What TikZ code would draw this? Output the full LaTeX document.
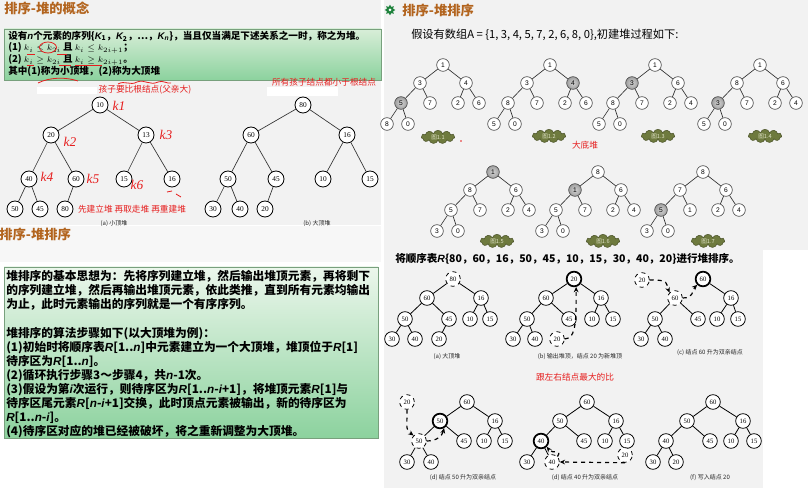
\documentclass[tikz,border=0pt]{standalone}
\usepackage{fontspec}
\usetikzlibrary{positioning,shapes.symbols,shapes.geometric,arrows.meta}
\setmainfont{Noto Sans CJK SC}
\newfontfamily\lsans{Liberation Sans}
\newfontfamily\lserif{Liberation Serif}
\newcommand{\ital}[1]{{\lsans\bfseries\itshape #1}}
\newcommand{\smallmath}[1]{{\fontsize{6.2}{7}\selectfont$#1$}}

\definecolor{titlebrown}{RGB}{178,100,30}
\definecolor{panelgrey}{RGB}{242,242,242}
\definecolor{boxtop}{RGB}{216,238,216}
\definecolor{boxbottom}{RGB}{140,210,158}
\definecolor{boxline}{RGB}{120,160,125}
\definecolor{cloudgreen}{RGB}{110,122,62}
\definecolor{cloudtext}{RGB}{225,228,200}
\definecolor{noteRed}{RGB}{230,30,30}
\definecolor{geargreen}{RGB}{30,130,60}

\tikzset{
  hnode/.style={circle, draw, line width=0.6pt, fill=white, minimum size=12pt, inner sep=0pt, font=\lserif\fontsize{5.5}{6}\selectfont},
  snode/.style={circle, draw=black!75, line width=0.45pt, fill=white, minimum size=9.5pt, inner sep=0pt, font=\lsans\fontsize{5}{5}\selectfont},
  gnode/.style={snode, inner color=gray!35, outer color=gray!75},
  rnode/.style={circle, draw, line width=0.6pt, fill=white, minimum size=11pt, inner sep=0pt, font=\lserif\fontsize{5}{5}\selectfont},
  dnode/.style={rnode, dashed},
  tnode/.style={rnode, line width=1.3pt},
  tline/.style={line width=0.5pt, black!80},
  rline/.style={line width=0.6pt},
  darr/.style={dashed, line width=0.9pt, -{Stealth[length=4pt,width=3.5pt]}},
  figcloud/.style={cloud, cloud puffs=11, aspect=2.6, fill=cloudgreen, draw=cloudgreen!70!black, inner sep=0.5pt, minimum width=25pt, minimum height=10pt, text=cloudtext, font=\fontsize{4.2}{4.2}\selectfont},
  title/.style={text=titlebrown, font=\bfseries\fontsize{10}{12}\selectfont},
  deftext/.style={anchor=west, inner sep=0pt, font=\bfseries\fontsize{7.2}{8}\selectfont},
  note/.style={text=noteRed, font=\fontsize{6.5}{7}\selectfont},
  hand/.style={text=noteRed, font=\lserif\itshape\fontsize{10}{10}\selectfont},
  capt/.style={font=\fontsize{4.5}{5}\selectfont, text=black!85},
  redmark/.style={noteRed, line width=0.6pt},
}

\begin{document}
\begin{tikzpicture}[x=0.75pt,y=-0.75pt]
  \useasboundingbox (0,0) rectangle (808,488);
  % backgrounds
  \fill[white] (0,0) rectangle (808,488);
  \fill[panelgrey] (0,0) rectangle (381,225);
  \fill[panelgrey] (384,0) rectangle (808,250);
  \fill[panelgrey] (384,246) rectangle (763,488);

  %%%%%%%%%%%%%%%%%%%%%%%%%%%%%%%%%%%%%%%%%%%%%%
  % Left top: heap definition
  %%%%%%%%%%%%%%%%%%%%%%%%%%%%%%%%%%%%%%%%%%%%%%
  \node[title, anchor=west, inner sep=0pt] (title1) at (4,8) {排序-堆的概念};
  \shade[top color=boxtop, bottom color=boxbottom, draw=boxline] (4,29) rectangle (381,80);
  \node[deftext] (def1) at (8,36) {设有\ital{n}个元素的序列\{\ital{K}\textsubscript{1}，\ital{K}\textsubscript{2}，…，\ital{K}\textsubscript{\ital{n}}\}，当且仅当满足下述关系之一时，称之为堆。};
  \node[deftext] (def2) at (8,48) {(1) \smallmath{k_i\le k_{2i}} 且 \smallmath{k_i\le k_{2i+1}}；};
  \node[deftext] (def3) at (8,60) {(2) \smallmath{k_i\ge k_{2i}} 且 \smallmath{k_i\ge k_{2i+1}}。};
  \node[deftext] (def4) at (8,71) {其中(1)称为小顶堆，(2)称为大顶堆};

  % red marks on the definition
  \draw[redmark] (48,47.5) ellipse (8.5 and 5.5);
  \draw[redmark] (27,54) -- (35,54) (57,54) -- (67,54);
  \draw[redmark] (27,65) -- (34,65) (59,65) -- (71,65) (75,65) -- (102,65);
  \draw[redmark] (38,83) .. controls (50,77) and (66,77) .. (78,81);
  \draw[redmark] (118,84) .. controls (125,80) and (130,86) .. (137,82) .. controls (145,79) and (150,86) .. (158,82) .. controls (163,80) and (167,84) .. (171,83);
  \fill[white] (37,87) rectangle (97,94);
  \fill[white] (267,87) rectangle (338,96);
  \node[note] (n1) at (145,90) {孩子要比根结点(父亲大)};
  \node[note] (n2) at (324,82) {所有孩子结点都小于根结点};

  % small top heap
  \node[hnode] (ls10) at (100,105) {10};
  \node[hnode] (ls20) at (51,135) {20};
  \node[hnode] (ls13) at (146,135) {13};
  \node[hnode] (ls40) at (29,179) {40};
  \node[hnode] (ls60) at (76,179) {60};
  \node[hnode] (ls15) at (124,179) {15};
  \node[hnode] (ls16) at (172,179) {16};
  \node[hnode] (ls50) at (15,209) {50};
  \node[hnode] (ls45) at (40,209) {45};
  \node[hnode] (ls80) at (65,209) {80};
  \foreach \a/\b in {10/20,10/13,20/40,20/60,13/15,13/16,40/50,40/45,60/80}
    \draw[tline] (ls\a) -- (ls\b);

  % big top heap
  \node[hnode] (lb80) at (303,105) {80};
  \node[hnode] (lb60) at (251,135) {60};
  \node[hnode] (lb16) at (347,135) {16};
  \node[hnode] (lb50) at (228,179) {50};
  \node[hnode] (lb45) at (276,179) {45};
  \node[hnode] (lb10) at (323,179) {10};
  \node[hnode] (lb15) at (370,179) {15};
  \node[hnode] (lb30) at (213,209) {30};
  \node[hnode] (lb40) at (240,209) {40};
  \node[hnode] (lb20) at (265,209) {20};
  \foreach \a/\b in {80/60,80/16,60/50,60/45,16/10,16/15,50/30,50/40,45/20}
    \draw[tline] (lb\a) -- (lb\b);

  % handwriting
  \node[hand] (k1) at (119,106) {k1};
  \node[hand] (k2) at (70,142) {k2};
  \node[hand] (k3) at (166,135) {k3};
  \node[hand] (k4) at (47,177) {k4};
  \node[hand] (k5) at (93,179) {k5};
  \node[hand] (k6) at (137,185) {k6};
  \draw[redmark] (167,192) -- (172,191) (176,194) -- (181,197);
  \node[note] (n3) at (132,209) {先建立堆 再取走堆 再重建堆};
  \node[capt] (capa) at (114,224) {(a)\ 小顶堆};
  \node[capt] (capb) at (317,224) {(b)\ 大顶堆};

  %%%%%%%%%%%%%%%%%%%%%%%%%%%%%%%%%%%%%%%%%%%%%%
  % Left bottom: heap sort idea
  %%%%%%%%%%%%%%%%%%%%%%%%%%%%%%%%%%%%%%%%%%%%%%
  \fill[white] (0,226) rectangle (381,488);
  \fill[panelgrey!60!white] (0,226) rectangle (381,262);
  \node[title, anchor=west, inner sep=0pt] (title2) at (-1,234) {排序-堆排序};
  \shade[top color=boxtop!50!white, bottom color=boxbottom, draw=boxline] (4,267) rectangle (378,438);
  \node[anchor=north west, align=left, inner sep=0pt, font=\bfseries\fontsize{8.8}{10.6}\selectfont] (idea) at (6,270)
    {堆排序的基本思想为：先将序列建立堆，然后输出堆顶元素，再将剩下\\
     的序列建立堆，然后再输出堆顶元素，依此类推，直到所有元素均输出\\
     为止，此时元素输出的序列就是一个有序序列。\\[10.6pt]
     堆排序的算法步骤如下(以大顶堆为例)：\\
     (1)初始时将顺序表\ital{R}[1..\ital{n}]中元素建立为一个大顶堆，堆顶位于\ital{R}[1]\\
     待序区为\ital{R}[1..\ital{n}]。\\
     (2)循环执行步骤3～步骤4，共\ital{n}-1次。\\
     (3)假设为第\ital{i}次运行，则待序区为\ital{R}[1..\ital{n}-\ital{i}+1]，将堆顶元素\ital{R}[1]与\\
     待序区尾元素\ital{R}[\ital{n}-\ital{i}+1]交换，此时顶点元素被输出，新的待序区为\\
     \ital{R}[1..\ital{n}-\ital{i}]。\\
     (4)待序区对应的堆已经被破坏，将之重新调整为大顶堆。};

  %%%%%%%%%%%%%%%%%%%%%%%%%%%%%%%%%%%%%%%%%%%%%%
  % Right top: building the heap
  %%%%%%%%%%%%%%%%%%%%%%%%%%%%%%%%%%%%%%%%%%%%%%
  \node[star, star points=8, star point ratio=1.6, fill=geargreen, minimum size=8pt, inner sep=0pt] (gear) at (390,10) {};
  \fill[white] (gear) circle (1.5);
  \node[title, anchor=west, inner sep=0pt] (title3) at (402,10) {排序-堆排序};
  \node[anchor=west, inner sep=0pt, font=\fontsize{8.4}{9}\selectfont] (array) at (411,35) {假设有数组A = \{1, 3, 4, 5, 7, 2, 6, 8, 0\},初建堆过程如下:};

  \foreach \t/\rx/\ry/\sh/\va/\vb/\vc/\vd/\ve/\vf/\vg/\vh/\vi in
     {1/443/65/4/1/3/4/5/7/2/6/8/0, 2/550/65/3/1/3/4/8/7/2/6/5/0,
      3/655/65/2/1/3/6/8/7/2/4/5/0, 4/760/65/4/1/8/6/3/7/2/4/5/0,
      5/493/172/1/1/8/6/5/7/2/4/3/0, 6/598/172/2/8/1/6/5/7/2/4/3/0,
      7/703/172/4/8/7/6/5/1/2/4/3/0}{
    \begin{scope}[shift={(\rx,\ry)}]
      \foreach \n/\dx/\dy/\v in {1/0/0/\va, 2/-23/18/\vb, 3/23/18/\vc, 4/-42/38/\vd, 5/-13/38/\ve,
                                 6/15/38/\vf, 7/36/38/\vg, 8/-56/59/\vh, 9/-35/59/\vi}{
        \ifnum\n=\sh \def\sty{gnode}\else \def\sty{snode}\fi
        \node[\sty] (t\t-\n) at (\dx,\dy) {\v};
      }
      \foreach \a/\b in {1/2,1/3,2/4,2/5,3/6,3/7,4/8,4/9}
        \draw[tline] (t\t-\a) -- (t\t-\b);
    \end{scope}
  }
  \node[figcloud] (c1) at (438,137) {图1.1};
  \node[figcloud] (c2) at (549,136) {图1.2};
  \node[figcloud] (c3) at (658,136) {图1.3};
  \node[figcloud] (c4) at (765,136) {图1.4};
  \node[figcloud] (c5) at (497,241) {图1.5};
  \node[figcloud] (c6) at (603,241) {图1.6};
  \node[figcloud] (c7) at (708,241) {图1.7};
  \fill[noteRed] (461,141) circle (0.8);
  \node[note] (n4) at (585,145) {大底堆};

  %%%%%%%%%%%%%%%%%%%%%%%%%%%%%%%%%%%%%%%%%%%%%%
  % Right bottom: sorting steps
  %%%%%%%%%%%%%%%%%%%%%%%%%%%%%%%%%%%%%%%%%%%%%%
  \node[anchor=west, inner sep=0pt, font=\bfseries\fontsize{7.9}{9}\selectfont] (seq) at (395,259) {将顺序表\ital{R}\{80，60，16，50，45，10，15，30，40，20\}进行堆排序。};

  % (a)
  \node[dnode] (ra80) at (453,279) {80};
  \node[rnode] (ra60) at (427,298) {60};
  \node[rnode] (ra16) at (481,298) {16};
  \node[rnode] (ra50) at (405,319) {50};
  \node[rnode] (ra45) at (449,319) {45};
  \node[rnode] (ra10) at (470,319) {10};
  \node[rnode] (ra15) at (490,319) {15};
  \node[rnode] (ra30) at (392,339) {30};
  \node[rnode] (ra40) at (415,339) {40};
  \node[rnode] (ra20) at (439,339) {20};
  \foreach \a/\b in {80/60,80/16,60/50,60/45,16/10,16/15,50/30,50/40,45/20}
    \draw[rline] (ra\a) -- (ra\b);
  \node[capt] (capra) at (447,357) {(a)\ 大顶堆};

  % (b)
  \node[tnode] (rb20) at (574,279) {20};
  \node[rnode] (rb60) at (546,298) {60};
  \node[rnode] (rb16) at (601,298) {16};
  \node[rnode] (rb50) at (527,319) {50};
  \node[rnode] (rb45) at (569,319) {45};
  \node[rnode] (rb10) at (592,319) {10};
  \node[rnode] (rb15) at (613,319) {15};
  \node[rnode] (rb30) at (513,339) {30};
  \node[rnode] (rb40) at (535,339) {40};
  \node[dnode] (rb20d) at (557,339) {20};
  \foreach \a/\b in {20/60,20/16,60/50,60/45,16/10,16/15,50/30,50/40}
    \draw[rline] (rb\a) -- (rb\b);
  \draw[darr] (rb20d.east) .. controls +(12,0) and +(0,30) .. (rb20.-75);
  \node[capt] (caprb) at (580,357) {(b)\ 输出堆顶，结点 20 为新堆顶};

  % (c)
  \node[dnode] (rc20d) at (642,280) {20};
  \node[tnode] (rc60) at (703,279) {60};
  \node[dnode] (rc60d) at (675,298) {60};
  \node[rnode] (rc16) at (731,298) {16};
  \node[rnode] (rc50) at (655,319) {50};
  \node[rnode] (rc45) at (698,319) {45};
  \node[rnode] (rc10) at (717,319) {10};
  \node[rnode] (rc15) at (738,319) {15};
  \node[rnode] (rc30) at (641,339) {30};
  \node[rnode] (rc40) at (665,339) {40};
  \foreach \a/\b in {60/16,60d/50,60d/45,16/10,16/15,50/30,50/40}
    \draw[rline] (rc\a) -- (rc\b);
  \draw[darr] (rc20d.east) .. controls +(20,0) and +(-4,-10) .. (rc60d.north west);
  \draw[darr] (rc60d.east) .. controls +(12,0) and +(-6,6) .. (rc60.south west);
  \node[capt] (caprc) at (710,353) {(c)\ 结点 60 升为双亲结点};

  \node[note] (n5) at (575,377) {跟左右结点最大的比};

  % (d)
  \node[dnode] (rd20d) at (407,402) {20};
  \node[rnode] (rd60) at (467,402) {60};
  \node[tnode] (rd50) at (440,421) {50};
  \node[rnode] (rd16) at (495,421) {16};
  \node[dnode] (rd50d) at (419,441) {50};
  \node[rnode] (rd45) at (464,441) {45};
  \node[rnode] (rd10) at (484,441) {10};
  \node[rnode] (rd15) at (505,441) {15};
  \node[rnode] (rd30) at (407,462) {30};
  \node[rnode] (rd40) at (431,462) {40};
  \foreach \a/\b in {60/50,60/16,50/50d,50/45,16/10,16/15,50d/30,50d/40}
    \draw[rline] (rd\a) -- (rd\b);
  \draw[darr] (rd20d.south) .. controls +(0,20) and +(-8,-6) .. (rd50d.north west);
  \draw[darr] (rd50d.east) .. controls +(10,0) and +(-2,8) .. (rd50.-60);
  \node[capt] (caprd) at (463,478) {(d)\ 结点 50 升为双亲结点};

  % (e)
  \node[rnode] (re60) at (587,402) {60};
  \node[rnode] (re50) at (560,421) {50};
  \node[rnode] (re16) at (616,421) {16};
  \node[tnode] (re40) at (541,441) {40};
  \node[rnode] (re45) at (584,441) {45};
  \node[rnode] (re10) at (605,441) {10};
  \node[rnode] (re15) at (627,441) {15};
  \node[dnode] (re20d) at (625,455) {20};
  \node[rnode] (re30) at (527,462) {30};
  \node[dnode] (re40d) at (552,462) {40};
  \foreach \a/\b in {60/50,60/16,50/40,50/45,16/10,16/15,40/30,40/40d}
    \draw[rline] (re\a) -- (re\b);
  \draw[darr] (re20d.south) -- (re40d.east);
  \draw[darr] (re40d.north east) .. controls +(5,-8) and +(6,8) .. (re40.south east);
  \node[capt] (capre) at (585,478) {(d)\ 结点 40 升为双亲结点};

  % (f)
  \node[rnode] (rf60) at (713,402) {60};
  \node[rnode] (rf50) at (687,421) {50};
  \node[rnode] (rf16) at (743,421) {16};
  \node[rnode] (rf40) at (666,441) {40};
  \node[rnode] (rf45) at (710,441) {45};
  \node[rnode] (rf10) at (731,441) {10};
  \node[rnode] (rf15) at (754,441) {15};
  \node[rnode] (rf30) at (653,462) {30};
  \node[rnode] (rf20) at (676,462) {20};
  \foreach \a/\b in {60/50,60/16,50/40,50/45,16/10,16/15,40/30,40/20}
    \draw[rline] (rf\a) -- (rf\b);
  \node[capt] (caprf) at (710,478) {(f)\ 写入结点 20};
\end{tikzpicture}
\end{document}
